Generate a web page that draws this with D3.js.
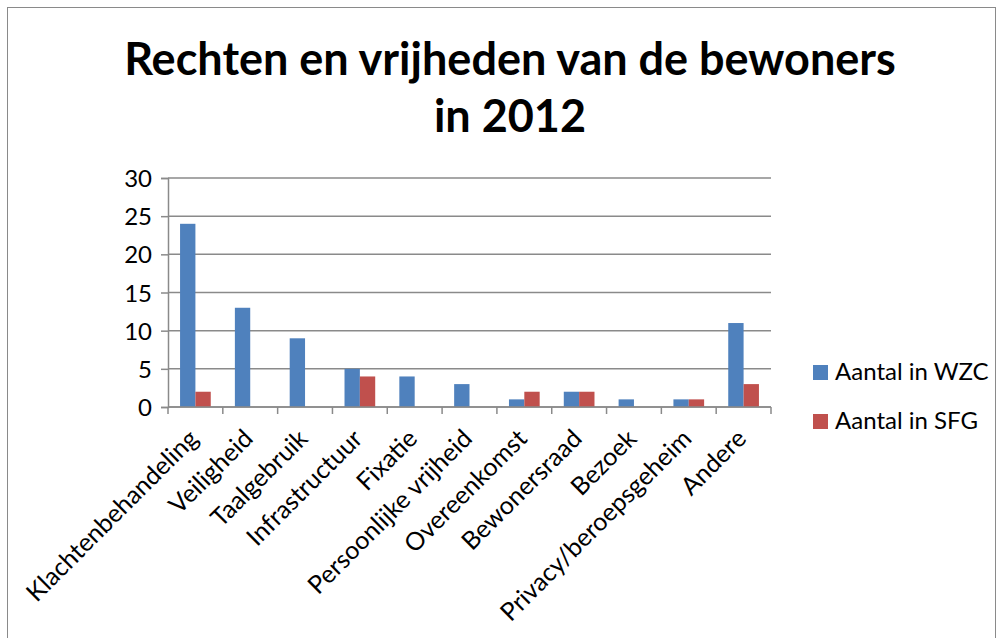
<!DOCTYPE html>
<html>
<head>
<meta charset="utf-8">
<script src="https://cdn.jsdelivr.net/npm/d3@7/dist/d3.min.js"></script>
<style>
  html, body { margin: 0; padding: 0; background: #fff; }
  svg { display: block; }
  text { font-family: Lato, "Liberation Sans", sans-serif; fill: #000; }
</style>
</head>
<body>
<svg id="chart" width="999" height="638"></svg>
<script>
// Categories and counts per setting
const categories = [
  "Klachtenbehandeling", "Veiligheid", "Taalgebruik", "Infrastructuur",
  "Fixatie", "Persoonlijke vrijheid", "Overeenkomst", "Bewonersraad",
  "Bezoek", "Privacy/beroepsgeheim", "Andere"
];
const wzc = [24, 13, 9, 5, 4, 3, 1, 2, 1, 1, 11];
const sfg = [2, 0, 0, 4, 0, 0, 2, 2, 0, 1, 3];
const seriesNames = ["Aantal in WZC", "Aantal in SFG"];
const seriesColors = ["#4f81bd", "#c0504d"];
const yTicks = [0, 5, 10, 15, 20, 25, 30];
const titleLines = ["Rechten en vrijheden van de bewoners", "in 2012"];

const svg = d3.select("#chart");

// chart frame
svg.append("rect")
  .attr("x", 7.5).attr("y", 7.5)
  .attr("width", 988).attr("height", 640)
  .attr("fill", "#fff").attr("stroke", "#8a8a8a").attr("stroke-width", 1);

// title
svg.append("g").selectAll("text")
  .data(titleLines)
  .join("text")
  .attr("x", 510)
  .attr("y", (d, i) => 75 + i * 57)
  .attr("text-anchor", "middle")
  .style("font-size", "45px")
  .style("font-weight", "bold")
  .text(d => d);

const plot = { left: 168, right: 771, top: 178, bottom: 407 };

const x = d3.scaleBand()
  .domain(categories)
  .range([plot.left, plot.right])
  .paddingInner(0.44).paddingOuter(0.22);

const xSub = d3.scaleBand()
  .domain(seriesNames)
  .range([0, x.bandwidth()]);

const y = d3.scaleLinear().domain([0, 30]).range([plot.bottom, plot.top]);

// gridlines
svg.append("g").selectAll("line")
  .data(yTicks)
  .join("line")
  .attr("x1", plot.left).attr("x2", plot.right)
  .attr("y1", d => y(d)).attr("y2", d => y(d))
  .attr("stroke", "#8a8a8a").attr("stroke-width", 1.5);

// bars
const rows = categories.map((c, i) => ({ cat: c, vals: [wzc[i], sfg[i]] }));
const groups = svg.append("g").selectAll("g")
  .data(rows)
  .join("g")
  .attr("transform", d => `translate(${x(d.cat)},0)`);
groups.selectAll("rect")
  .data(d => d.vals.map((v, j) => ({ v, name: seriesNames[j], j })))
  .join("rect")
  .attr("x", d => xSub(d.name))
  .attr("width", xSub.bandwidth())
  .attr("y", d => y(d.v))
  .attr("height", d => y(0) - y(d.v))
  .attr("fill", d => seriesColors[d.j]);

// y axis
const yAxis = svg.append("g")
  .attr("transform", `translate(${plot.left},0)`)
  .call(d3.axisLeft(y).tickValues(yTicks).tickSize(7).tickPadding(9));
yAxis.select(".domain").attr("stroke", "#8a8a8a").attr("stroke-width", 1.5);
yAxis.selectAll(".tick line").attr("stroke", "#8a8a8a").attr("stroke-width", 1.5);
yAxis.selectAll(".tick text")
  .style("font-size", "24px")
  .style("font-family", "Lato, sans-serif")
  .attr("fill", "#000")
  .attr("dy", "0.36em");

// x axis: ticks at category boundaries
const step = x.step();
const boundaries = d3.range(categories.length + 1).map(i => plot.left + i * step);
const xAxisG = svg.append("g");
xAxisG.append("line")
  .attr("x1", plot.left).attr("x2", plot.right)
  .attr("y1", plot.bottom).attr("y2", plot.bottom)
  .attr("stroke", "#8a8a8a").attr("stroke-width", 1.5);
xAxisG.selectAll("line.tk")
  .data(boundaries)
  .join("line")
  .attr("class", "tk")
  .attr("x1", d => d).attr("x2", d => d)
  .attr("y1", plot.bottom).attr("y2", plot.bottom + 7)
  .attr("stroke", "#8a8a8a").attr("stroke-width", 1.5);

xAxisG.selectAll("text")
  .data(categories)
  .join("text")
  .attr("transform", d => `translate(${x(d) + x.bandwidth() / 2 - 2},${plot.bottom + 27}) rotate(-45)`)
  .attr("text-anchor", "end")
  .attr("dy", "0.35em")
  .style("font-size", "25px")
  .text(d => d);

// legend
const legend = svg.append("g").attr("transform", "translate(813,365)");
const li = legend.selectAll("g")
  .data(seriesNames)
  .join("g")
  .attr("transform", (d, i) => `translate(0,${i * 49})`);
li.append("rect")
  .attr("width", 15).attr("height", 15)
  .attr("fill", (d, i) => seriesColors[i]);
li.append("text")
  .attr("x", 22).attr("y", 15)
  .style("font-size", "24px")
  .text(d => d);
</script>
</body>
</html>
